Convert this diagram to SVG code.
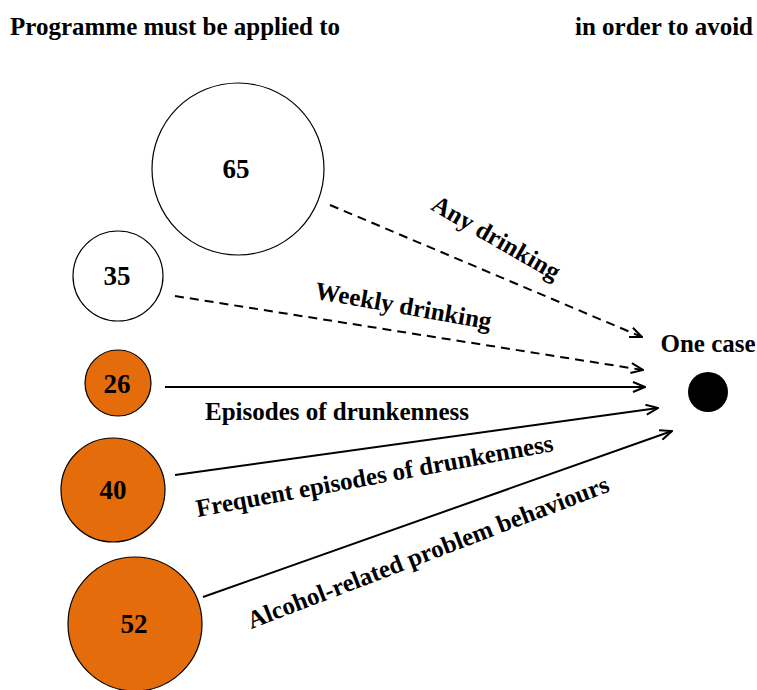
<svg xmlns="http://www.w3.org/2000/svg" width="757" height="690" viewBox="0 0 757 690">
<style>
text{font-family:"Liberation Serif","Times New Roman",serif;font-weight:bold;fill:#000}
.hdr{font-size:25px}
.num{font-size:27px;text-anchor:middle}
.lbl{font-size:25px;text-anchor:middle}
.w{fill:#fff;stroke:#000;stroke-width:1.2}
.o{fill:#E46C0A;stroke:#000;stroke-width:1.2}
.c{stroke:#000;stroke-width:2;fill:none;marker-end:url(#ah)}
.d{stroke-dasharray:9 6}
</style>
<defs>
<marker id="ah" markerWidth="14" markerHeight="12" refX="13" refY="6" orient="auto" markerUnits="userSpaceOnUse">
<path d="M1,1 L13,6 L1,11" fill="none" stroke="#000" stroke-width="2"/>
</marker>
</defs>
<rect width="757" height="690" fill="#fff"/>
<text class="hdr" x="10" y="35">Programme must be applied to</text>
<text class="hdr" x="753" y="35" text-anchor="end">in order to avoid</text>
<g id="connectors">
<line class="c d" x1="330" y1="205" x2="642" y2="337"/>
<line class="c d" x1="175" y1="296" x2="643" y2="370"/>
<line class="c" x1="165" y1="387" x2="645" y2="387"/>
<line class="c" x1="175" y1="475" x2="658" y2="408"/>
<line class="c" x1="203" y1="597" x2="672" y2="431"/>
<text class="lbl" transform="translate(492,245) rotate(30)">Any drinking</text>
<text class="lbl" transform="translate(402,314) rotate(10)">Weekly drinking</text>
<text class="lbl" x="337" y="420">Episodes of drunkenness</text>
<text class="lbl" transform="translate(376,484) rotate(-10.5)">Frequent episodes of drunkenness</text>
<text class="lbl" transform="translate(431,560) rotate(-21)">Alcohol-related problem behaviours</text>
</g>
<g id="n65"><circle class="w" cx="238" cy="169" r="86"/><text class="num" x="236" y="178">65</text></g>
<g id="n35"><circle class="w" cx="118" cy="276" r="45"/><text class="num" x="117" y="285">35</text></g>
<g id="n26"><circle class="o" cx="118" cy="383" r="33"/><text class="num" x="117" y="393">26</text></g>
<g id="n40"><circle class="o" cx="113" cy="490" r="52"/><text class="num" x="113" y="499">40</text></g>
<g id="n52"><circle class="o" cx="135" cy="624" r="67"/><text class="num" x="134" y="633">52</text></g>
<g id="onecase"><text class="lbl" x="708" y="352">One case</text><circle cx="708" cy="392" r="20" fill="#000"/></g>
</svg>
